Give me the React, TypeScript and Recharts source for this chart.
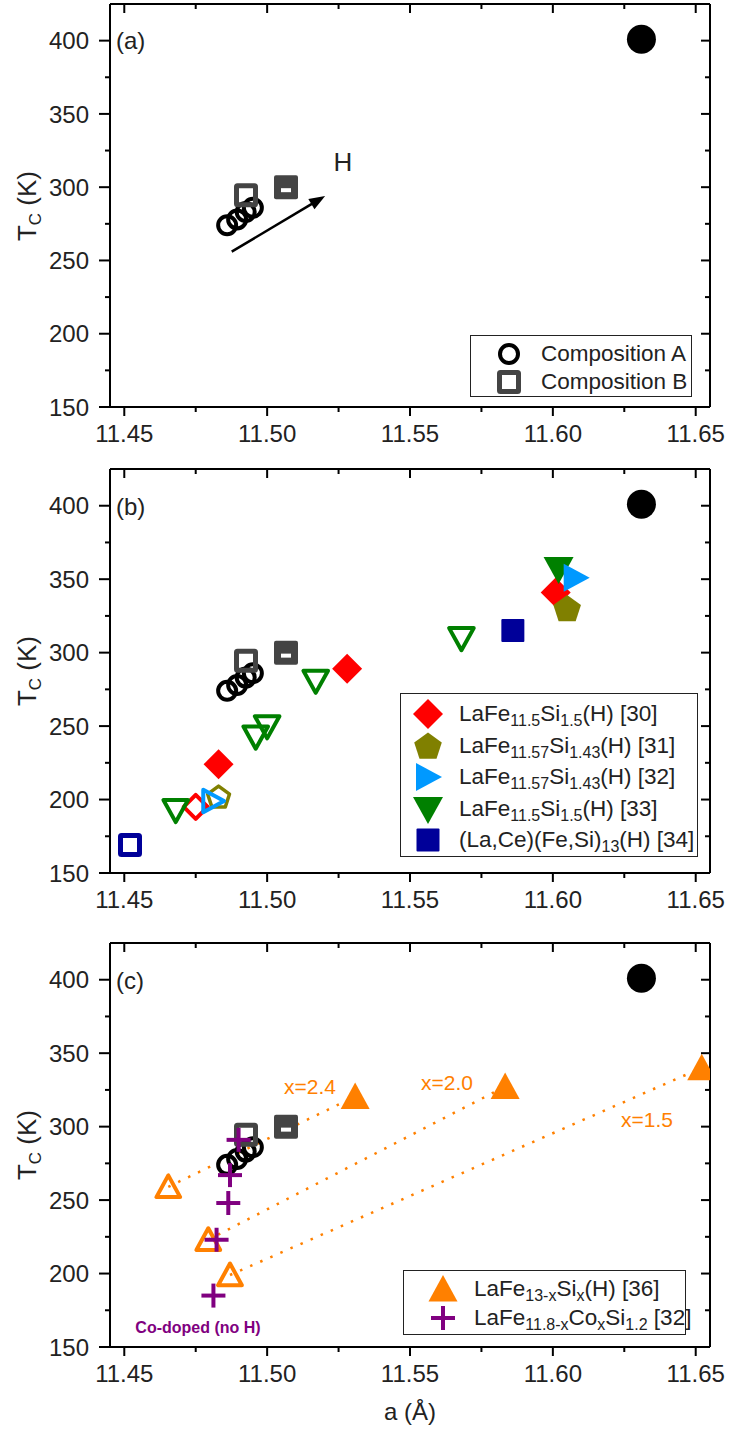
import React from 'react';
import { ScatterChart, Scatter, XAxis, YAxis, ReferenceLine } from 'recharts';

const FONT = '"Liberation Sans", Arial, sans-serif';
const TXT = '#222';

const X_DOMAIN: [number, number] = [11.445, 11.655];
const Y_DOMAIN: [number, number] = [150, 425];
const xTicks = [11.45, 11.475, 11.5, 11.525, 11.55, 11.575, 11.6, 11.625, 11.65];
const yTicks = [150, 175, 200, 225, 250, 275, 300, 325, 350, 375, 400];

// points shown in every panel (lattice parameter a, Curie temperature)
const saturated = [{ a: 11.631, t: 401 }];
const compositionA = [
  { a: 11.486, t: 274 },
  { a: 11.4895, t: 278 },
  { a: 11.4925, t: 283 },
  { a: 11.495, t: 286 },
];
const compositionB = [{ a: 11.4926, t: 294.5 }];
const compositionBFull = [{ a: 11.5066, t: 300 }];
const arrowH = [
  { a: 11.4876, t: 256 },
  { a: 11.5203, t: 294 },
];

// panel (b) literature data
const ref30Filled = [
  { a: 11.483, t: 224 },
  { a: 11.528, t: 289 },
  { a: 11.601, t: 341 },
];
const ref30Open = [{ a: 11.475, t: 195 }];
const ref31Filled = [{ a: 11.605, t: 330 }];
const ref31Open = [{ a: 11.483, t: 202 }];
const ref32Filled = [{ a: 11.608, t: 351 }];
const ref32Open = [{ a: 11.481, t: 199 }];
const ref33Filled = [{ a: 11.602, t: 357 }];
const ref33Open = [
  { a: 11.468, t: 193 },
  { a: 11.496, t: 243 },
  { a: 11.5, t: 250 },
  { a: 11.517, t: 281 },
  { a: 11.568, t: 310 },
];
const ref34Filled = [{ a: 11.586, t: 315 }];
const ref34Open = [{ a: 11.452, t: 169 }];

// panel (c)
const siOpen = [
  { a: 11.4654, t: 259 },
  { a: 11.4794, t: 223 },
  { a: 11.487, t: 199 },
];
const siFilled = [
  { a: 11.5308, t: 320.5 },
  { a: 11.5833, t: 327.3 },
  { a: 11.6521, t: 340 },
];
const coDoped = [
  { a: 11.49, t: 291 },
  { a: 11.487, t: 267 },
  { a: 11.4864, t: 248 },
  { a: 11.4823, t: 223 },
  { a: 11.4812, t: 185 },
];

const RED = '#ff0000';
const OLIVE = '#808000';
const SKY = '#0099ff';
const GREEN = '#008000';
const NAVY = '#000099';
const ORANGE = '#ff8000';
const PURPLE = '#800080';
const GRAY = '#444444';

type Kind =
  | 'dot'
  | 'circle'
  | 'square'
  | 'squareFull'
  | 'diamond'
  | 'pentagon'
  | 'triRight'
  | 'triDown'
  | 'triUp'
  | 'cross';

function Marker({ kind, cx, cy, color, filled }: { kind: Kind; cx: number; cy: number; color: string; filled?: boolean }) {
  const fill = filled ? color : 'none';
  const sw = filled ? 0 : 4;
  switch (kind) {
    case 'dot':
      return <circle cx={cx} cy={cy} r={14.5} fill="#000" />;
    case 'circle':
      return <circle cx={cx} cy={cy} r={9} fill="none" stroke={color} strokeWidth={4} />;
    case 'square': {
      const h = filled ? 11.5 : 9.5;
      return (
        <rect x={cx - h} y={cy - h} width={2 * h} height={2 * h} fill={fill} stroke={color}
          strokeWidth={filled ? 0 : 5} rx={1} />
      );
    }
    case 'squareFull':
      return (
        <g>
          <rect x={cx - 12} y={cy - 12} width={24} height={24} fill={color} rx={2} />
          <rect x={cx - 5} y={cy + 1} width={10} height={4} fill="#fff" />
        </g>
      );
    case 'diamond': {
      const r = filled ? 15 : 12;
      return (
        <polygon points={`${cx},${cy - r} ${cx + r},${cy} ${cx},${cy + r} ${cx - r},${cy}`}
          fill={fill} stroke={color} strokeWidth={sw} strokeLinejoin="round" />
      );
    }
    case 'pentagon': {
      const r = filled ? 14.5 : 11.5;
      const pts = [0, 1, 2, 3, 4]
        .map((i) => {
          const ang = -Math.PI / 2 + (i * 2 * Math.PI) / 5;
          return `${cx + r * Math.cos(ang)},${cy + 1 + r * Math.sin(ang)}`;
        })
        .join(' ');
      return <polygon points={pts} fill={fill} stroke={color} strokeWidth={filled ? 0 : 3.5} strokeLinejoin="round" />;
    }
    case 'triRight': {
      const s = filled ? 1 : 0.8;
      return (
        <polygon points={`${cx - 12 * s},${cy - 14 * s} ${cx + 14 * s},${cy} ${cx - 12 * s},${cy + 14 * s}`}
          fill={fill} stroke={color} strokeWidth={sw} strokeLinejoin="round" />
      );
    }
    case 'triDown': {
      const s = filled ? 1 : 0.82;
      return (
        <polygon points={`${cx - 15 * s},${cy - 12 * s} ${cx + 15 * s},${cy - 12 * s} ${cx},${cy + 15 * s}`}
          fill={fill} stroke={color} strokeWidth={sw} strokeLinejoin="round" />
      );
    }
    case 'triUp': {
      const s = filled ? 1 : 0.82;
      return (
        <polygon points={`${cx - 14.5 * s},${cy + 12.5 * s} ${cx + 14.5 * s},${cy + 12.5 * s} ${cx},${cy - 14 * s}`}
          fill={fill} stroke={color} strokeWidth={sw} strokeLinejoin="round" />
      );
    }
    case 'cross':
      return (
        <g stroke={color} strokeWidth={4}>
          <line x1={cx - 12} x2={cx + 12} y1={cy} y2={cy} />
          <line x1={cx} x2={cx} y1={cy - 12} y2={cy + 12} />
        </g>
      );
  }
  return null;
}

const isMajorX = (v: number) => Math.abs(v * 20 - Math.round(v * 20)) < 1e-6;
const isMajorY = (v: number) => v % 50 === 0;

const BottomTick = (p: any) => {
  const v = p.payload.value;
  const maj = isMajorX(v);
  return (
    <g>
      <line x1={p.x} x2={p.x} y1={p.y} y2={p.y + (maj ? 9 : 5)} stroke="#000" strokeWidth={2} />
      {maj && (
        <text x={p.x} y={p.y + 35} textAnchor="middle" fontSize={24} fontFamily={FONT} fill={TXT}>
          {v.toFixed(2)}
        </text>
      )}
    </g>
  );
};
const TopTick = (p: any) => {
  const maj = isMajorX(p.payload.value);
  return <line x1={p.x} x2={p.x} y1={p.y} y2={p.y + (maj ? 9 : 5)} stroke="#000" strokeWidth={2} />;
};
const LeftTick = (p: any) => {
  const v = p.payload.value;
  const maj = isMajorY(v);
  return (
    <g>
      <line x1={p.x - (maj ? 11 : 5)} x2={p.x} y1={p.y} y2={p.y} stroke="#000" strokeWidth={2} />
      {maj && (
        <text x={p.x - 21} y={p.y} dy="0.36em" textAnchor="end" fontSize={24} fontFamily={FONT} fill={TXT}>
          {v}
        </text>
      )}
    </g>
  );
};
const RightTick = (p: any) => {
  const maj = isMajorY(p.payload.value);
  return <line x1={p.x - (maj ? 9 : 5)} x2={p.x} y1={p.y} y2={p.y} stroke="#000" strokeWidth={2} />;
};

const AXIS_LINE = { stroke: '#000', strokeWidth: 2 };

function axes(bottomH: number) {
  return [
    <XAxis key="xb" xAxisId="b" type="number" dataKey="a" domain={X_DOMAIN} allowDataOverflow ticks={xTicks}
      interval={0} orientation="bottom" height={bottomH} tickSize={0} tickMargin={0} tickLine={false}
      axisLine={AXIS_LINE} tick={BottomTick} />,
    <XAxis key="xt" xAxisId="t" type="number" dataKey="a" domain={X_DOMAIN} allowDataOverflow ticks={xTicks}
      interval={0} orientation="top" height={1} tickSize={0} tickMargin={0} tickLine={false}
      axisLine={AXIS_LINE} tick={TopTick} />,
    <YAxis key="yl" yAxisId="l" type="number" dataKey="t" domain={Y_DOMAIN} allowDataOverflow ticks={yTicks}
      interval={0} orientation="left" width={110} tickSize={0} tickMargin={0} tickLine={false}
      axisLine={AXIS_LINE} tick={LeftTick} />,
    <YAxis key="yr" yAxisId="r" type="number" dataKey="t" domain={Y_DOMAIN} allowDataOverflow ticks={yTicks}
      interval={0} orientation="right" width={1} tickSize={0} tickMargin={0} tickLine={false}
      axisLine={AXIS_LINE} tick={RightTick} />,
  ];
}

function series(key: string, data: { a: number; t: number }[], kind: Kind, color: string, filled?: boolean) {
  return (
    <Scatter key={key} data={data} xAxisId="b" yAxisId="l" dataKey="t" isAnimationActive={false}
      shape={(p: any) => <Marker kind={kind} cx={p.cx} cy={p.cy} color={color} filled={filled} />} />
  );
}

function commonSeries() {
  return [
    series('sat', saturated, 'dot', '#000', true),
    series('compA', compositionA, 'circle', '#000'),
    series('compB', compositionB, 'square', GRAY),
    series('compBF', compositionBFull, 'squareFull', GRAY),
  ];
}

const ArrowShape = (p: any) => {
  const { x1, y1, x2, y2 } = p;
  const ang = Math.atan2(y2 - y1, x2 - x1);
  const L = 16;
  const W = 6;
  const bx = x2 - L * Math.cos(ang);
  const by = y2 - L * Math.sin(ang);
  const nx = -Math.sin(ang) * W;
  const ny = Math.cos(ang) * W;
  return (
    <g>
      <line x1={x1} y1={y1} x2={bx + 2 * Math.cos(ang)} y2={by + 2 * Math.sin(ang)} stroke="#000" strokeWidth={2.5} />
      <polygon points={`${x2},${y2} ${bx + nx},${by + ny} ${bx - nx},${by - ny}`} fill="#000" />
    </g>
  );
};

function Panel({ top, plotTop, plotBottom, height, children }: {
  top: number; plotTop: number; plotBottom: number; height: number; children: React.ReactNode;
}) {
  const bottomH = top + height - plotBottom;
  return (
    <div style={{ position: 'absolute', left: 0, top, width: 729, height }}>
      <ScatterChart width={729} height={height} margin={{ top: plotTop - top - 1, right: 18, bottom: 0, left: 0 }}>
        {axes(bottomH)}
        {children}
      </ScatterChart>
    </div>
  );
}

type Row = { marker: React.ReactNode; label: React.ReactNode };

function LegendBox({ left, top, width, height, rowTop, rowGap, mx, tx, rows }: {
  left: number; top: number; width: number; height: number; rowTop: number; rowGap: number;
  mx: number; tx: number; rows: Row[];
}) {
  return (
    <div style={{ position: 'absolute', left, top, width, height, border: '1.5px solid #222', boxSizing: 'border-box',
      background: '#fff', fontFamily: FONT, color: TXT }}>
      {rows.map((r, i) => (
        <React.Fragment key={i}>
          <svg width={34} height={34} style={{ position: 'absolute', left: mx - left - 17, top: rowTop + i * rowGap - top - 17 }}>
            {r.marker}
          </svg>
          <div style={{ position: 'absolute', left: tx - left, top: rowTop + i * rowGap - top - 14, height: 28,
            lineHeight: '28px', fontSize: 22.5, whiteSpace: 'nowrap' }}>
            {r.label}
          </div>
        </React.Fragment>
      ))}
    </div>
  );
}

const Sub = ({ children }: { children: React.ReactNode }) => (
  <span style={{ fontSize: 16, verticalAlign: -5 }}>{children}</span>
);

const m = (kind: Kind, color: string, filled?: boolean) => <Marker kind={kind} cx={17} cy={17} color={color} filled={filled} />;

function segments(open: { a: number; t: number }[], filled: { a: number; t: number }[]) {
  return open.map((o, i) => (
    <ReferenceLine key={'seg' + i} xAxisId="b" yAxisId="l" ifOverflow="visible"
      segment={[{ x: o.a, y: o.t }, { x: filled[i].a, y: filled[i].t }]}
      stroke={ORANGE} strokeWidth={2.5} strokeDasharray="2.5 8.5" />
  ));
}

function YTitle({ cy }: { cy: number }) {
  return (
    <text transform={`translate(36, ${cy}) rotate(-90)`} textAnchor="middle" fontSize={26} fontFamily={FONT} fill={TXT}>
      T<tspan fontSize={17} dy={5}>C</tspan>
      <tspan dy={-5}> (K)</tspan>
    </text>
  );
}

function arrow() {
  return (
    <ReferenceLine key="arrow" xAxisId="b" yAxisId="l" ifOverflow="visible"
      segment={[{ x: arrowH[0].a, y: arrowH[0].t }, { x: arrowH[1].a, y: arrowH[1].t }]}
      shape={ArrowShape} />
  );
}

export default function App() {
  return (
    <div style={{ position: 'relative', width: 729, height: 1436, background: '#fff', overflow: 'hidden' }}>
      <style>{`body{margin:0}`}</style>
      <Panel top={0} plotTop={4} plotBottom={407} height={460}>
        {arrow()}
        {commonSeries()}
      </Panel>
      <Panel top={455} plotTop={469} plotBottom={873} height={470}>
        {commonSeries()}
        {series('r30o', ref30Open, 'diamond', RED)}
        {series('r30f', ref30Filled, 'diamond', RED, true)}
        {series('r31o', ref31Open, 'pentagon', OLIVE)}
        {series('r31f', ref31Filled, 'pentagon', OLIVE, true)}
        {series('r33o', ref33Open, 'triDown', GREEN)}
        {series('r33f', ref33Filled, 'triDown', GREEN, true)}
        {series('r32o', ref32Open, 'triRight', SKY)}
        {series('r32f', ref32Filled, 'triRight', SKY, true)}
        {series('r34o', ref34Open, 'square', NAVY)}
        {series('r34f', ref34Filled, 'square', NAVY, true)}
      </Panel>
      <Panel top={930} plotTop={943} plotBottom={1347} height={506}>
        {commonSeries()}
        {segments(siOpen, siFilled)}
        {series('sio', siOpen, 'triUp', ORANGE)}
        {series('sif', siFilled, 'triUp', ORANGE, true)}
        {series('co', coDoped, 'cross', PURPLE)}
      </Panel>

      <svg width={729} height={1436} style={{ position: 'absolute', left: 0, top: 0, pointerEvents: 'none' }}>
        <g fontFamily={FONT} fill={TXT}>
          <text x={116} y={49} fontSize={24}>(a)</text>
          <text x={116} y={515} fontSize={24}>(b)</text>
          <text x={116} y={989} fontSize={24}>(c)</text>
          <text x={343} y={171} fontSize={26} textAnchor="middle">H</text>
          <text x={410} y={1420} fontSize={24} textAnchor="middle">a (Å)</text>
        </g>
        <YTitle cy={206} />
        <YTitle cy={671} />
        <YTitle cy={1145} />
        <g fontFamily={FONT} fill={ORANGE} fontSize={21} textAnchor="middle">
          <text x={310} y={1094}>x=2.4</text>
          <text x={447} y={1090}>x=2.0</text>
          <text x={647} y={1127}>x=1.5</text>
        </g>
        <text x={198} y={1333} fontFamily={FONT} fontSize={16} fontWeight="bold" fill={PURPLE} textAnchor="middle">
          Co-doped (no H)
        </text>
      </svg>

      <LegendBox left={470} top={335} width={222} height={62} rowTop={353} rowGap={28} mx={508} tx={540}
        rows={[
          { marker: m('circle', '#000'), label: 'Composition A' },
          { marker: m('square', GRAY), label: 'Composition B' },
        ]} />
      <LegendBox left={400} top={693} width={298} height={164} rowTop={713} rowGap={31.5} mx={427} tx={458}
        rows={[
          { marker: m('diamond', RED, true), label: <>LaFe<Sub>11.5</Sub>Si<Sub>1.5</Sub>(H) [30]</> },
          { marker: m('pentagon', OLIVE, true), label: <>LaFe<Sub>11.57</Sub>Si<Sub>1.43</Sub>(H) [31]</> },
          { marker: m('triRight', SKY, true), label: <>LaFe<Sub>11.57</Sub>Si<Sub>1.43</Sub>(H) [32]</> },
          { marker: m('triDown', GREEN, true), label: <>LaFe<Sub>11.5</Sub>Si<Sub>1.5</Sub>(H) [33]</> },
          { marker: m('square', NAVY, true), label: <>(La,Ce)(Fe,Si)<Sub>13</Sub>(H) [34]</> },
        ]} />
      <LegendBox left={403} top={1270} width={283} height={65} rowTop={1288} rowGap={29} mx={442} tx={473}
        rows={[
          { marker: m('triUp', ORANGE, true), label: <>LaFe<Sub>13-x</Sub>Si<Sub>x</Sub>(H) [36]</> },
          { marker: m('cross', PURPLE), label: <>LaFe<Sub>11.8-x</Sub>Co<Sub>x</Sub>Si<Sub>1.2</Sub> [32]</> },
        ]} />
    </div>
  );
}
